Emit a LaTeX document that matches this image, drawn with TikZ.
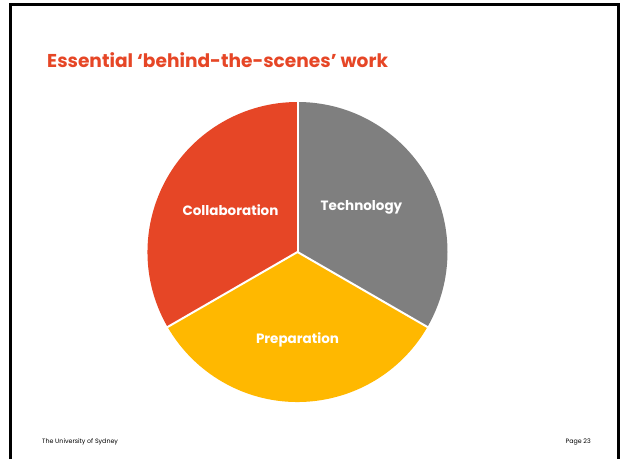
\documentclass[tikz,border=0pt]{standalone}
\usepackage{fontspec}
\setmainfont{Poppins}
\definecolor{sydRed}{HTML}{E64626}
\definecolor{sydGrey}{HTML}{7F7F7F}
\definecolor{sydYellow}{HTML}{FFB800}
\tikzset{
    slicelabel/.style={text=white, font=\fontsize{13.5}{16}\selectfont\bfseries},
    footer/.style={font=\fontsize{6.3}{7}\selectfont, anchor=base}
}

\begin{document}
\begin{tikzpicture}[x=1pt, y=1pt]
    \useasboundingbox (0, 0) rectangle (622, 459);
    \fill[white] (0, 0) rectangle (622, 459);

    % slide frame
    \draw[line width=3pt] (10.5, 0) -- (10.5, 454) -- (618.5, 454) -- (618.5, 0);

    \node[anchor=base west, text=sydRed, font=\fontsize{18.6}{22}\selectfont\bfseries, inner xsep=0pt]
        (title) at (47, 391) {Essential ‘behind-the-scenes’ work};

    % pie
    \coordinate (centre) at (297.5, 207);
    \fill[sydGrey] (centre) -- ++(90:150) arc[start angle=90, end angle=-30, radius=150] -- cycle;
    \fill[sydYellow] (centre) -- ++(-30:150) arc[start angle=-30, end angle=-150, radius=150] -- cycle;
    \fill[sydRed] (centre) -- ++(210:150) arc[start angle=210, end angle=90, radius=150] -- cycle;
    \draw[white, line width=2pt] (centre) -- ++(90:150.5);
    \draw[white, line width=2pt] (centre) -- ++(-30:150.5);
    \draw[white, line width=2pt] (centre) -- ++(210:150.5);

    \node[slicelabel] (collab) at (230.5, 249) {Collaboration};
    \node[slicelabel] (tech) at (361.5, 251.5) {Technology};
    \node[slicelabel] (prep) at (297.5, 119.5) {Preparation};

    \node[footer, anchor=base west, inner xsep=0pt] (uni) at (42, 16) {The University of Sydney};
    \node[footer, anchor=base east, inner xsep=0pt] (page) at (591, 16) {Page 23};
\end{tikzpicture}
\end{document}
